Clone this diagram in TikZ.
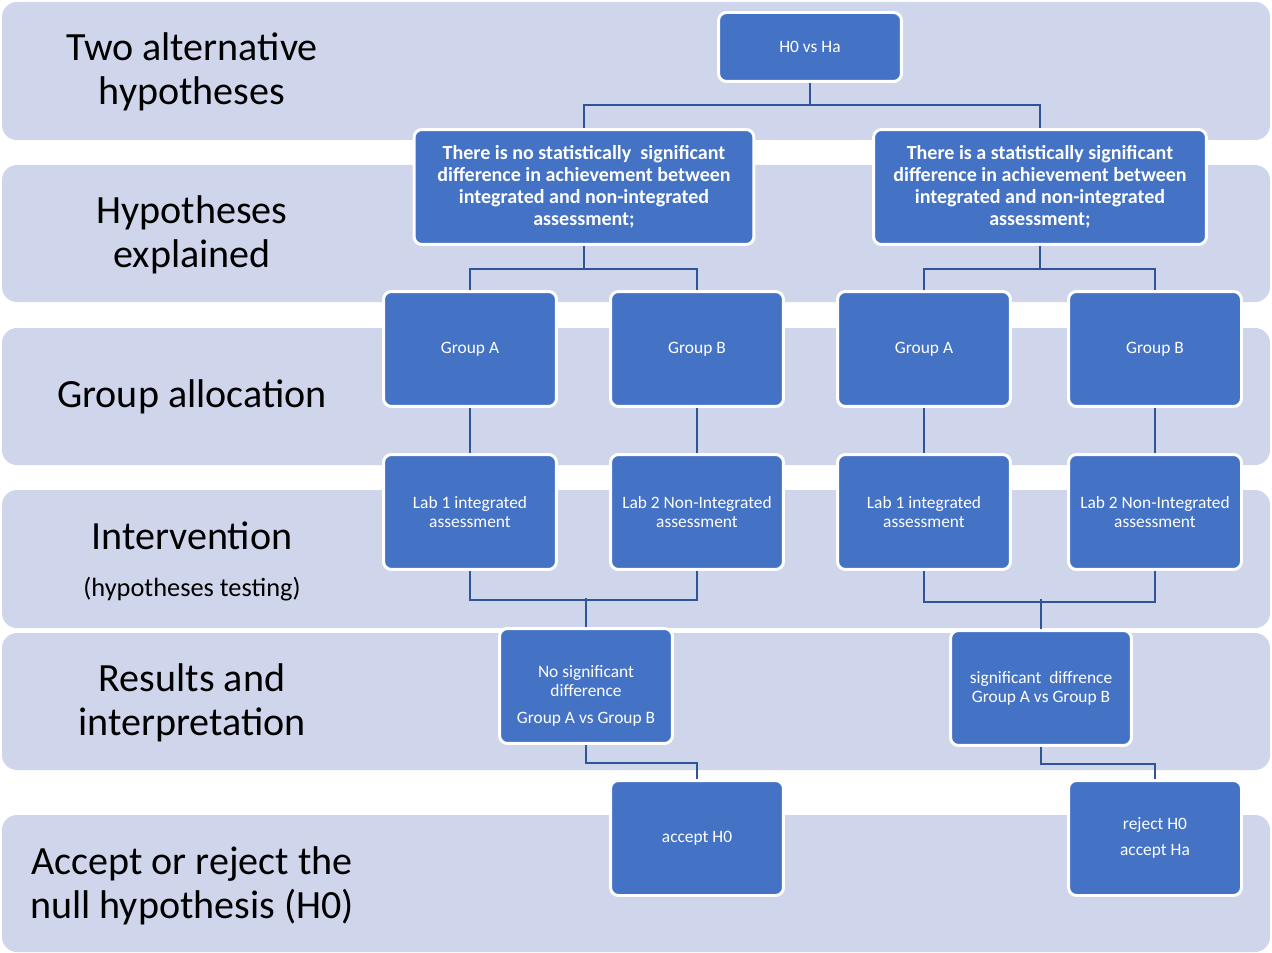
\documentclass[tikz,border=0pt]{standalone}
\usepackage{fontspec}
\setmainfont{Carlito}
\definecolor{bandgray}{HTML}{CFD5EA}
\definecolor{boxblue}{HTML}{4472C4}
\definecolor{linkblue}{HTML}{2F5597}
\begin{document}
\begin{tikzpicture}[x={(0.02cm,0)}, y={(0,-0.02cm)},
    band/.style={fill=bandgray, rounded corners=0.3cm},
    rowlabel/.style={align=center, font=\fontsize{22.8}{25}\selectfont},
    box/.style={draw=white, line width=1.7pt, fill=boxblue, rounded corners=0.16cm,
        text=white, align=center, minimum width=3.46cm, minimum height=2.3cm,
        font=\fontsize{9.9}{10.8}\selectfont},
    hypbox/.style={box, minimum width=6.8cm, font=\bfseries\fontsize{11.4}{12.5}\selectfont},
    conn/.style={draw=linkblue, line width=1.5pt}]
    \useasboundingbox (0,0) rectangle (1272,953);
    % background rows
    \fill[band] (2,2) rectangle (1270,140);
    \fill[band] (2,165) rectangle (1270,302);
    \fill[band] (2,328) rectangle (1270,465);
    \fill[band] (2,490) rectangle (1270,628);
    \fill[band] (2,633) rectangle (1270,770);
    \fill[band] (2,815) rectangle (1270,952);
    % row labels
    \node[rowlabel] (lab1) at (192,72) {Two alternative\\hypotheses};
    \node[rowlabel] (lab2) at (192,235) {Hypotheses\\explained};
    \node[rowlabel] (lab3) at (192,397) {Group allocation};
    \node[rowlabel] (lab4) at (192,536) {Intervention};
    \node[font=\fontsize{15}{16}\selectfont] (lab4b) at (192,589) {(hypotheses testing)};
    \node[rowlabel] (lab5) at (192,703) {Results and\\interpretation};
    \node[rowlabel] (lab6) at (192,886) {Accept or reject the\\null hypothesis (H0)};
    % boxes
    \node[box, minimum width=3.66cm, minimum height=1.38cm] (h0) at (810,47) {H0 vs Ha};
    \node[hypbox] (hno) at (584,187) {There is no statistically\ \ significant\\difference in achievement between\\integrated and non-integrated\\assessment;};
    \node[hypbox, minimum width=6.66cm] (hyes) at (1040,187) {There is a statistically significant\\difference in achievement between\\integrated and non-integrated\\assessment;};
    \node[box] (gAL) at (470,349) {Group A};
    \node[box] (gBL) at (697,349) {Group B};
    \node[box] (gAR) at (924,349) {Group A};
    \node[box] (gBR) at (1155,349) {Group B};
    \node[box] (labAL) at (470,512) {Lab 1 integrated\\assessment};
    \node[box] (labBL) at (697,512) {Lab 2 Non-Integrated\\assessment};
    \node[box] (labAR) at (924,512) {Lab 1 integrated\\assessment};
    \node[box] (labBR) at (1155,512) {Lab 2 Non-Integrated\\assessment};
    \node[box] (nosig) at (586,686) {\rule{0pt}{18pt}No significant\\difference\\[5pt]Group A vs Group B};
    \node[box, minimum width=3.62cm] (sig) at (1041,688) {significant\ \ diffrence\\Group A vs Group B};
    \node[box] (accept) at (697,838) {accept H0};
    \node[box] (reject) at (1155,838) {reject H0\\[4pt]accept Ha};
    % connectors
    \draw[conn] (h0.south) -- ++(0,22) -| (hno.north);
    \draw[conn] (h0.south) -- ++(0,22) -| (hyes.north);
    \draw[conn] (hno.south) -- ++(0,23) -| (gAL.north);
    \draw[conn] (hno.south) -- ++(0,23) -| (gBL.north);
    \draw[conn] (hyes.south) -- ++(0,23) -| (gAR.north);
    \draw[conn] (hyes.south) -- ++(0,23) -| (gBR.north);
    \draw[conn] (gAL) -- (labAL);
    \draw[conn] (gBL) -- (labBL);
    \draw[conn] (gAR) -- (labAR);
    \draw[conn] (gBR) -- (labBR);
    \draw[conn] (labAL.south) -- ++(0,29) -| (labBL.south);
    \draw[conn] (nosig.north) -- ++(0,-29);
    \draw[conn] (labAR.south) -- ++(0,31) -| (labBR.south);
    \draw[conn] (sig.north) -- ++(0,-30);
    \draw[conn] (nosig.south) -- ++(0,18) -| (accept.north);
    \draw[conn] (sig.south) -- ++(0,17) -| (reject.north);
\end{tikzpicture}
\end{document}
